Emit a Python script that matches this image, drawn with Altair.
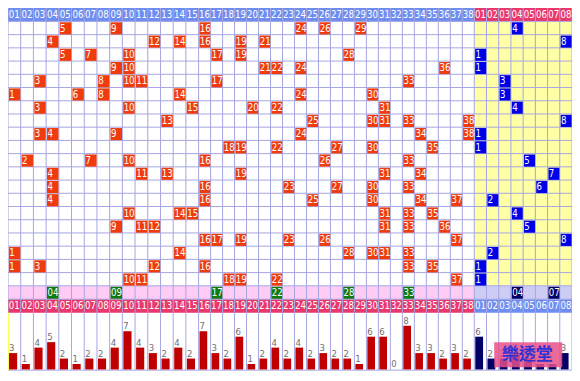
import altair as alt
import pandas as pd

# ---------------- data ----------------
main_numbers = [f"{i:02d}" for i in range(1, 39)]
special_numbers = [f"{i:02d}" for i in range(1, 9)]

draws = [
    [5, 9, 16, 24, 26, 29],
    [4, 12, 14, 16, 19, 21],
    [5, 7, 10, 17, 19, 28],
    [9, 10, 21, 22, 24, 36],
    [3, 8, 10, 11, 17, 33],
    [1, 6, 8, 14, 24, 30],
    [3, 10, 15, 20, 22, 31],
    [13, 25, 30, 31, 33, 38],
    [3, 4, 9, 24, 34, 38],
    [18, 19, 22, 27, 30, 35],
    [2, 7, 10, 16, 26, 33],
    [4, 11, 13, 19, 31, 34],
    [4, 16, 23, 27, 30, 33],
    [4, 16, 25, 30, 34, 37],
    [10, 14, 15, 31, 33, 35],
    [9, 11, 12, 31, 33, 36],
    [16, 17, 19, 23, 26, 37],
    [1, 14, 28, 30, 31, 33],
    [1, 3, 12, 16, 33, 35],
    [10, 11, 18, 19, 22, 37],
]
specials = [4, 8, 1, 1, 3, 3, 4, 8, 1, 1, 5, 7, 6, 2, 4, 5, 8, 2, 1, 1]
next_main = [4, 9, 17, 22, 28, 33]
next_special = [4, 7]
main_counts = [3, 1, 4, 5, 2, 1, 2, 2, 4, 7, 4, 3, 2, 4, 2, 7, 3, 2, 6, 1,
               2, 4, 2, 4, 2, 3, 2, 2, 1, 6, 6, 0, 8, 3, 3, 2, 3, 2]
special_counts = [6, 2, 2, 3, 2, 1, 1, 3]
watermark = "樂透堂"

# ---------------- layout ----------------
W, H = 564, 365
KX, KY = W / 580, H / 381
NM, NS = len(main_numbers), len(special_numbers)
NC = NM + NS
HEAD_H = 14.0
ROW_H = 13.8
n_rows = len(draws)
draw_top = HEAD_H
pink_top = draw_top + n_rows * ROW_H
head2_top = pink_top + 14
bars_top = head2_top + 14
bars_bottom = 378

FONT = "'Liberation Sans Narrow', 'DejaVu Sans Condensed', 'Liberation Sans', Arial, sans-serif"

xs = alt.Scale(domain=[0, 15, NM, NC], range=[0, 196 * KX, 479.5 * KX, W], nice=False, zero=False)
ys = alt.Scale(domain=[0, 381], range=[0, H], nice=False, zero=False)
cs = alt.Scale(domain=[0, 8], range=[377.3 * KY, 331.7 * KY], nice=False, zero=False)

BLUE_HEAD = "#6D8DF0"
RED_HEAD = "#E8386C"
GRID = "#A6A6E2"


def enc_rect():
    return dict(
        x=alt.X("x:Q", scale=xs, axis=None),
        x2="x2:Q",
        y=alt.Y("y:Q", scale=ys, axis=None),
        y2="y2:Q",
        color=alt.Color("fill:N", scale=None, legend=None),
    )


# backgrounds
bg = []


def box(lst, x, x2, y, y2, fill):
    lst.append(dict(x=x, x2=x2, y=y, y2=y2, fill=fill))


box(bg, 0, NC, 0, 381, "#FFFFFF")
box(bg, 0, NM, 0, HEAD_H, BLUE_HEAD)
box(bg, NM, NC, 0, HEAD_H, RED_HEAD)
box(bg, NM, NC, draw_top, pink_top, "#FFFFA6")
box(bg, 0, NM, pink_top, head2_top, "#FFCCF6")
box(bg, NM, NC, pink_top, head2_top, "#CCCCF4")
box(bg, 0, NM, head2_top, bars_top, RED_HEAD)
box(bg, NM, NC, head2_top, bars_top, BLUE_HEAD)

bg_layer = alt.Chart(pd.DataFrame(bg)).mark_rect(strokeWidth=0).encode(**enc_rect())

# grid lines
vl = pd.DataFrame([dict(x=c, y=0, y2=bars_bottom) for c in range(NC + 1)])
hl_rows = [draw_top + k * ROW_H for k in range(n_rows + 1)] + [head2_top, bars_bottom]
hl = pd.DataFrame([dict(y=v, x=0, x2=NC) for v in hl_rows])
vgrid = alt.Chart(vl).mark_rule(color=GRID, strokeWidth=1).encode(
    x=alt.X("x:Q", scale=xs, axis=None), y=alt.Y("y:Q", scale=ys, axis=None), y2="y2:Q")
hgrid = alt.Chart(hl).mark_rule(color=GRID, strokeWidth=1).encode(
    y=alt.Y("y:Q", scale=ys, axis=None), x=alt.X("x:Q", scale=xs, axis=None), x2="x2:Q")

yellow_edge = alt.Chart(pd.DataFrame([dict(x=0.02, y=bars_top, y2=bars_bottom)])).mark_rule(
    color="#FFFF55", strokeWidth=2).encode(
    x=alt.X("x:Q", scale=xs, axis=None), y=alt.Y("y:Q", scale=ys, axis=None), y2="y2:Q")

# header texts
ht = []
for i, lab in enumerate(main_numbers + special_numbers):
    ht.append(dict(x=i + 0.5, y=HEAD_H / 2 + 0.3, text=lab))
    ht.append(dict(x=i + 0.5, y=head2_top + 7.3, text=lab))
head_text = alt.Chart(pd.DataFrame(ht)).mark_text(
    align="center", baseline="middle", color="white", fontSize=9.6, font=FONT).encode(
    x=alt.X("x:Q", scale=xs, axis=None), y=alt.Y("y:Q", scale=ys, axis=None), text="text:N")

# drawn cells
cells, ctext = [], []
for r, (row, sp) in enumerate(zip(draws, specials)):
    y0 = draw_top + r * ROW_H
    for n in row:
        c = n - 1
        cells.append(dict(x=c + 0.07, x2=c + 0.97, y=y0 + 0.9, y2=y0 + ROW_H - 0.2, fill="#F03C0C"))
        ctext.append(dict(x=c + 0.1, y=y0 + ROW_H / 2 + 0.6, text=str(n)))
    c = NM + sp - 1
    cells.append(dict(x=c + 0.07, x2=c + 0.97, y=y0 + 0.9, y2=y0 + ROW_H - 0.2, fill="#0000E8"))
    ctext.append(dict(x=c + 0.1, y=y0 + ROW_H / 2 + 0.6, text=str(sp)))
for n in next_main:
    c = n - 1
    cells.append(dict(x=c + 0.07, x2=c + 0.97, y=pink_top + 1, y2=head2_top - 0.5, fill="#0E7A10"))
    ctext.append(dict(x=c + 0.1, y=pink_top + 7.5, text=f"{n:02d}"))
for n in next_special:
    c = NM + n - 1
    cells.append(dict(x=c + 0.07, x2=c + 0.97, y=pink_top + 1, y2=head2_top - 0.5, fill="#000066"))
    ctext.append(dict(x=c + 0.1, y=pink_top + 7.5, text=f"{n:02d}"))

cell_layer = alt.Chart(pd.DataFrame(cells)).mark_rect(strokeWidth=0).encode(**enc_rect())
cell_text = alt.Chart(pd.DataFrame(ctext)).mark_text(
    align="left", baseline="middle", color="white", fontSize=9.6, font=FONT).encode(
    x=alt.X("x:Q", scale=xs, axis=None), y=alt.Y("y:Q", scale=ys, axis=None), text="text:N")

# frequency bars
bars = []
for i, v in enumerate(main_counts):
    bars.append(dict(x=i + 0.08, x2=i + 0.72, count=v, fill="#C00000", text=str(v)))
for i, v in enumerate(special_counts):
    bars.append(dict(x=NM + i + 0.08, x2=NM + i + 0.72, count=v, fill="#000066", text=str(v)))
bdf = pd.DataFrame(bars)
bar_layer = alt.Chart(bdf).mark_rect(strokeWidth=0).encode(
    x=alt.X("x:Q", scale=xs, axis=None), x2="x2:Q",
    y=alt.Y("count:Q", scale=cs, axis=None), y2=alt.datum(0),
    color=alt.Color("fill:N", scale=None, legend=None))
bar_text = alt.Chart(bdf).mark_text(
    align="left", baseline="bottom", color="#707070", fontSize=9.5, font=FONT, dy=0).encode(
    x=alt.X("x:Q", scale=xs, axis=None), y=alt.Y("count:Q", scale=cs, axis=None), text="text:N")

# watermark
wm_box = alt.Chart(pd.DataFrame([dict(a=1)])).mark_rect(
    color="#E8508A", opacity=0.85).encode(
    x=alt.value(500 * KX), x2=alt.value(570 * KX), y=alt.value(349 * KY), y2=alt.value(375 * KY))
wm_text = alt.Chart(pd.DataFrame([dict(t=watermark)])).mark_text(
    align="center", baseline="middle", color="#3232D2", fontSize=17,
    font="Noto Sans CJK TC", fontWeight="bold").encode(
    x=alt.value(534 * KX), y=alt.value(362.5 * KY), text="t:N")

chart = alt.layer(
    bg_layer, vgrid, hgrid, yellow_edge, head_text, cell_layer, cell_text,
    bar_layer, bar_text, wm_box, wm_text
).resolve_scale(y="independent").properties(
    width=W, height=H, padding=0, autosize="none"
).configure_view(stroke=None)

chart.save("out.html", embed_options={"renderer": "svg", "actions": False})
